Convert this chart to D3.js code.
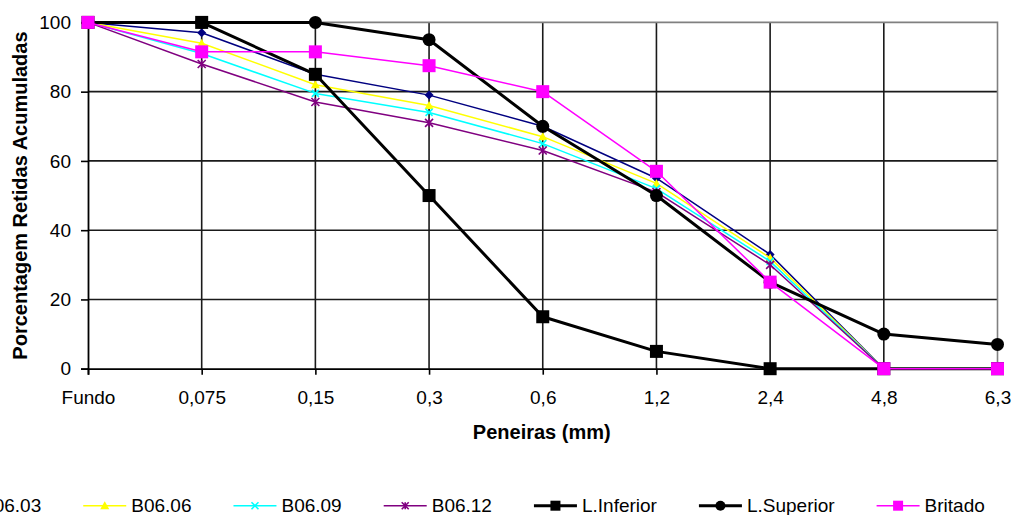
<!DOCTYPE html>
<html>
<head>
<meta charset="utf-8">
<script src="https://cdn.jsdelivr.net/npm/d3@7"></script>
<style>
  html, body { margin: 0; padding: 0; background: #fff; }
  svg { display: block; font-family: Arial, "Liberation Sans", sans-serif; }
</style>
</head>
<body>
<svg id="chart" width="1014" height="515"></svg>
<script>
// Peneiras (mm) no eixo X
const categories = ["Fundo", "0,075", "0,15", "0,3", "0,6", "1,2", "2,4", "4,8", "6,3"];
const yTicks = [0, 20, 40, 60, 80, 100];

// Porcentagens retidas acumuladas por amostra
const b0603 = [100, 97, 85, 79, 70, 55, 33, 0, 0];
const b0606 = [100, 94, 82, 76, 67, 53.5, 32, 0, 0];
const b0609 = [100, 91, 79.5, 74, 65, 52, 31, 0, 0];
const b0612 = [100, 88, 77, 71, 63, 51, 30, 0, 0];
const limInferior = [100, 100, 85, 50, 15, 5, 0, 0, 0];
const limSuperior = [100, 100, 100, 95, 70, 50, 25, 10, 7];
const britado = [100, 91.5, 91.5, 87.5, 80, 57, 25, 0, 0];

const seriesNames = ["B06.03", "B06.06", "B06.09", "B06.12", "L.Inferior", "L.Superior", "Britado"];

const styles = {
  "B06.03":     { color: "#000080", width: 1.5, marker: "diamond",  size: 9,  legendSize: 8 },
  "B06.06":     { color: "#FFFF00", width: 1.5, marker: "triangle", size: 9,  legendSize: 9 },
  "B06.09":     { color: "#00FFFF", width: 1.5, marker: "x",        size: 7,  legendSize: 7 },
  "B06.12":     { color: "#800080", width: 1.5, marker: "star",     size: 8,  legendSize: 7 },
  "L.Inferior": { color: "#000000", width: 3,   marker: "square",   size: 13, legendSize: 10 },
  "L.Superior": { color: "#000000", width: 3,   marker: "circle",   size: 13, legendSize: 10 },
  "Britado":    { color: "#FF00FF", width: 1.5, marker: "square",   size: 13, legendSize: 10 }
};

const series = [b0603, b0606, b0609, b0612, limInferior, limSuperior, britado]
  .map((values, i) => ({ name: seriesNames[i], values }));

const svg = d3.select("#chart");
const plot = { left: 88, right: 997.5, top: 22.4, bottom: 368.7 };

const x = d3.scalePoint().domain(categories).range([plot.left, plot.right]);
const y = d3.scaleLinear().domain([0, 100]).range([plot.bottom, plot.top]);

// Grade horizontal
svg.append("g").selectAll("line")
  .data(yTicks.filter(t => t > 0 && t < 100))
  .join("line")
  .attr("x1", plot.left).attr("x2", plot.right)
  .attr("y1", d => y(d)).attr("y2", d => y(d))
  .attr("stroke", "#1a1a1a").attr("stroke-width", 1.6);

// Grade vertical
svg.append("g").selectAll("line")
  .data(categories.slice(1, -1))
  .join("line")
  .attr("x1", d => x(d)).attr("x2", d => x(d))
  .attr("y1", plot.top).attr("y2", plot.bottom)
  .attr("stroke", "#1a1a1a").attr("stroke-width", 1.6);

// Borda superior e direita da área de plotagem
svg.append("path")
  .attr("d", `M${plot.left},${plot.top}H${plot.right}V${plot.bottom}`)
  .attr("fill", "none").attr("stroke", "#808080").attr("stroke-width", 1.6);

// Eixos
const yAxis = d3.axisLeft(y).tickValues(yTicks).tickSize(7).tickPadding(10);
const gy = svg.append("g").attr("transform", `translate(${plot.left},0)`).call(yAxis);
gy.select(".domain").attr("stroke", "#000").attr("stroke-width", 1.8);
gy.selectAll(".tick line").attr("stroke", "#000").attr("stroke-width", 1.6);
gy.selectAll(".tick text").attr("font-size", "19px").attr("fill", "#000")
  .attr("font-family", "Arial, 'Liberation Sans', sans-serif");

const xAxis = d3.axisBottom(x).tickSize(6).tickPadding(16);
const gx = svg.append("g").attr("transform", `translate(0,${plot.bottom})`).call(xAxis);
gx.select(".domain").attr("stroke", "#000").attr("stroke-width", 1.8);
gx.selectAll(".tick line").attr("stroke", "#000").attr("stroke-width", 1.6);
gx.selectAll(".tick text").attr("font-size", "19px").attr("fill", "#000")
  .attr("font-family", "Arial, 'Liberation Sans', sans-serif");

// Títulos dos eixos
svg.append("text")
  .attr("transform", `translate(27,${(plot.top + plot.bottom) / 2}) rotate(-90)`)
  .attr("text-anchor", "middle")
  .attr("font-size", "20px").attr("font-weight", "bold")
  .text("Porcentagem Retidas Acumuladas");

svg.append("text")
  .attr("x", (plot.left + plot.right) / 2 - 1).attr("y", 439)
  .attr("text-anchor", "middle")
  .attr("font-size", "20px").attr("font-weight", "bold")
  .text("Peneiras (mm)");

// Desenho dos marcadores
function drawMarker(g, type, cx, cy, s, color) {
  const h = s / 2;
  if (type === "square") {
    g.append("rect").attr("x", cx - h).attr("y", cy - h).attr("width", s).attr("height", s)
      .attr("fill", color);
  } else if (type === "circle") {
    g.append("circle").attr("cx", cx).attr("cy", cy).attr("r", h).attr("fill", color);
  } else if (type === "diamond") {
    g.append("path").attr("d", `M${cx},${cy - h}L${cx + h},${cy}L${cx},${cy + h}L${cx - h},${cy}Z`)
      .attr("fill", color);
  } else if (type === "triangle") {
    g.append("path").attr("d", `M${cx},${cy - h}L${cx + h},${cy + h * 0.8}L${cx - h},${cy + h * 0.8}Z`)
      .attr("fill", color);
  } else if (type === "x") {
    g.append("path").attr("d", `M${cx - h},${cy - h}L${cx + h},${cy + h}M${cx + h},${cy - h}L${cx - h},${cy + h}`)
      .attr("stroke", color).attr("stroke-width", 1.6).attr("fill", "none");
  } else if (type === "star") {
    g.append("path").attr("d", `M${cx - h},${cy - h}L${cx + h},${cy + h}M${cx + h},${cy - h}L${cx - h},${cy + h}M${cx},${cy - h}L${cx},${cy + h}`)
      .attr("stroke", color).attr("stroke-width", 1.6).attr("fill", "none");
  }
}

// Linhas e marcadores das séries
const line = d3.line().x((d, i) => x(categories[i])).y(d => y(d));
series.forEach(s => {
  const st = styles[s.name];
  const g = svg.append("g");
  g.append("path").datum(s.values).attr("d", line)
    .attr("fill", "none").attr("stroke", st.color).attr("stroke-width", st.width)
    .attr("stroke-linejoin", "round");
  s.values.forEach((v, i) => drawMarker(g, st.marker, x(categories[i]), y(v), st.size, st.color));
});

// Legenda
const legend = svg.append("g");
const legendY = 505.7;
let lx = -67;
series.forEach(s => {
  const st = styles[s.name];
  legend.append("line").attr("x1", lx).attr("x2", lx + 43)
    .attr("y1", legendY).attr("y2", legendY)
    .attr("stroke", st.color).attr("stroke-width", st.width);
  drawMarker(legend, st.marker, lx + 21.5, legendY, st.legendSize, st.color);
  const t = legend.append("text").attr("x", lx + 48).attr("y", 511.5)
    .attr("font-size", "19px").text(s.name);
  lx = lx + 48 + t.node().getComputedTextLength() + 42;
});
</script>
</body>
</html>
